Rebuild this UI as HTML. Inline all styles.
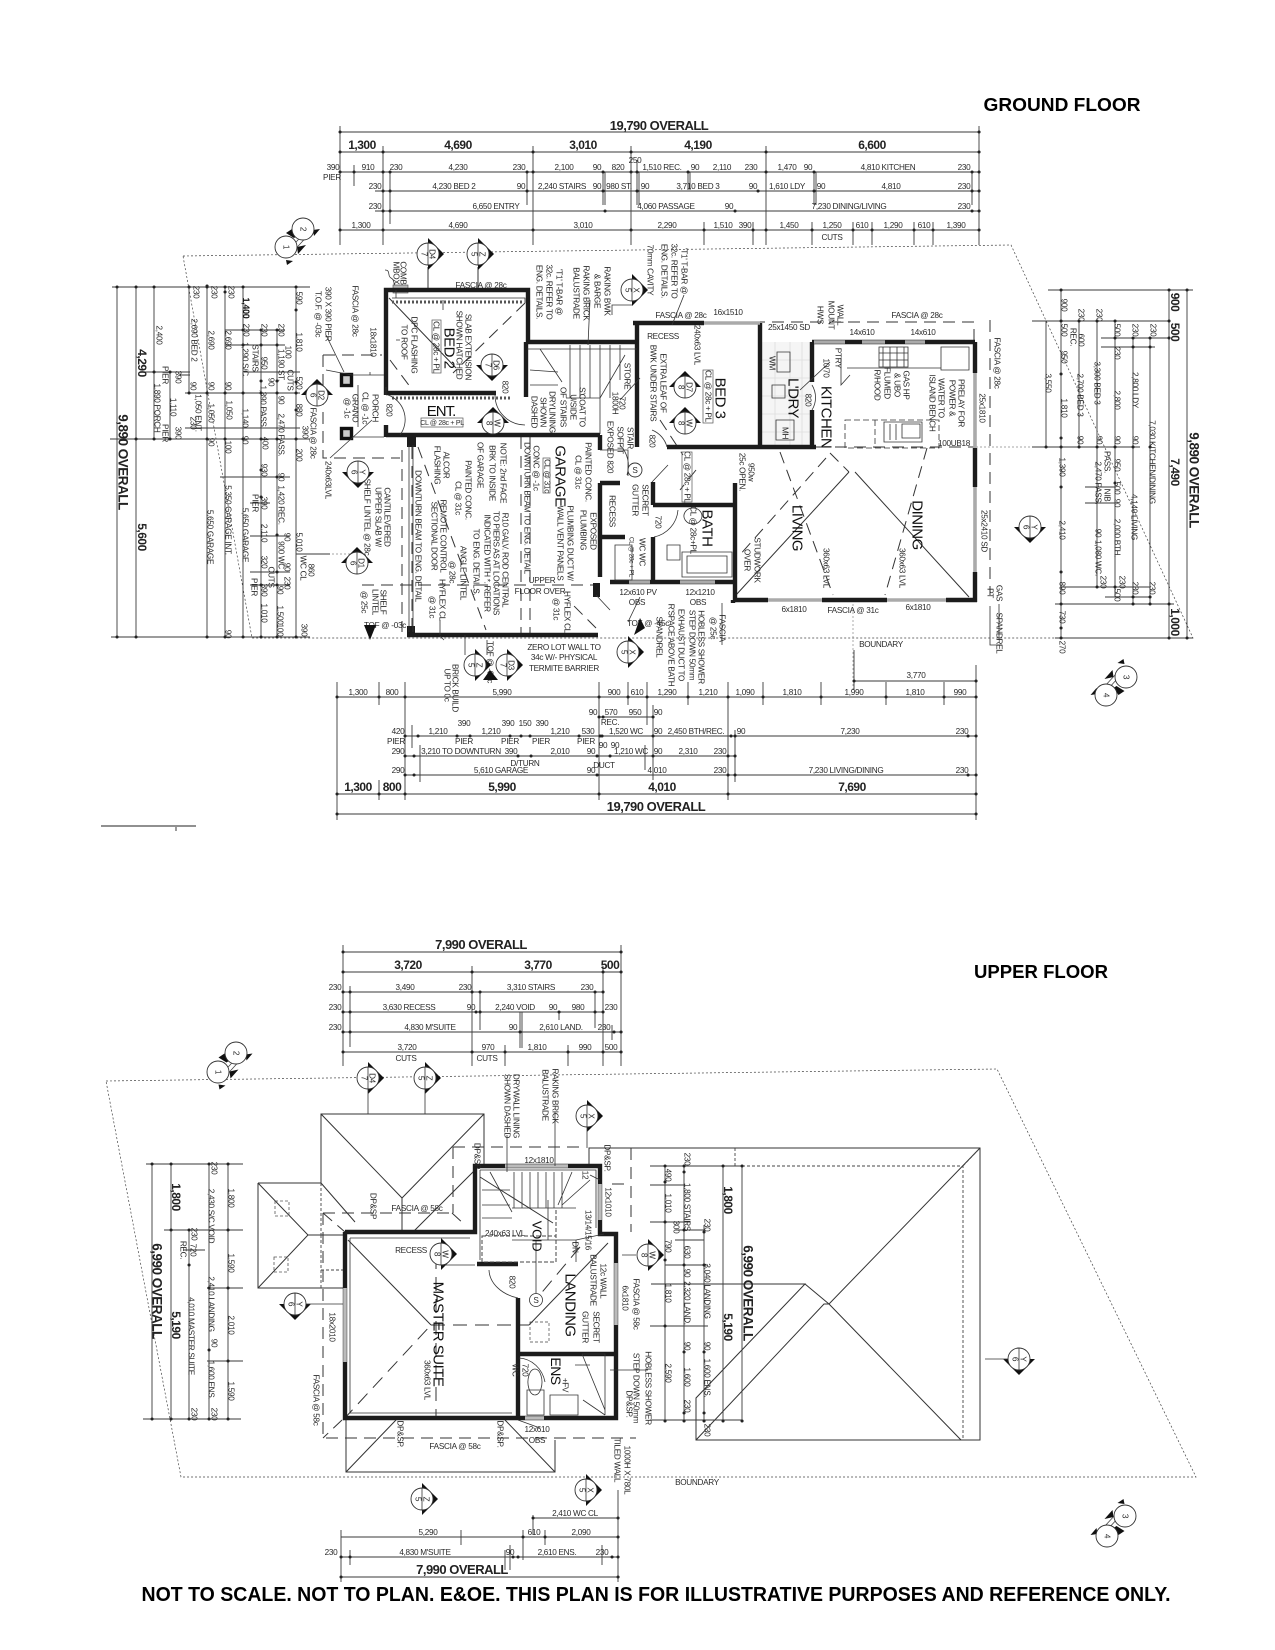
<!DOCTYPE html>
<html><head><meta charset="utf-8"><title>Floor Plan</title>
<style>
html,body{margin:0;padding:0;background:#fff}
svg{display:block;filter:blur(.3px)}
text{font-family:"Liberation Sans",sans-serif;font-size:8.2px;letter-spacing:-.3px;text-anchor:middle;fill:#2a2a2a}
.r text{dominant-baseline:central}
text.b{font-size:12px;font-weight:bold;letter-spacing:-.5px;fill:#222}
text.o{font-size:13.5px;font-weight:bold;letter-spacing:-.5px;fill:#222}
text.m{font-size:15px;letter-spacing:-.5px;fill:#111}
text.k{font-size:11px;letter-spacing:-.3px;fill:#111}
text.t{font-weight:bold;fill:#000;letter-spacing:0}
.l{fill:none;stroke:#3a3a3a;stroke-width:.9}
.h{fill:none;stroke:#333;stroke-width:1}
.g{fill:none;stroke:#888;stroke-width:.7;stroke-dasharray:2 2}
.a{fill:none;stroke:#333;stroke-width:1;stroke-dasharray:12 7}
.d{fill:none;stroke:#222;stroke-width:3;stroke-linecap:round}
.w{fill:none;stroke:#1c1c1c;stroke-width:4.4;stroke-linejoin:miter}
.n{fill:none;stroke:#333;stroke-width:.8}
.v{fill:none;stroke:#aaa;stroke-width:3.6}
.mk circle{fill:#fff;stroke:#333;stroke-width:.9}
.mk path{fill:#111}
.mk line{stroke:#333;stroke-width:.8}
</style></head><body>
<svg xmlns="http://www.w3.org/2000/svg" width="1275" height="1650" viewBox="0 0 1275 1650">
<defs>
<g id="mk" class="mk"><path d="M0-16 16 0 0 16Z"/><circle r="11"/><line x1="0" y1="-11" x2="0" y2="11"/></g>
<g id="mt" class="mk"><path d="M-16 0 0-16 16 0Z"/><circle r="11"/><line x1="0" y1="-11" x2="0" y2="11"/></g>
<g id="mu" class="mk"><path d="M-16 0 0 16 16 0Z"/><circle r="11"/><line x1="0" y1="-11" x2="0" y2="11"/></g>
<g id="pr" style="fill:#111"><path d="M-8.5-5-2.5-9 2.5-2-.5 0ZM2.5 9 11.5 7 3.5 16ZM18.5-8 25.5-9 19.5-2ZM-8.5 22-1.5 23-7.5 27Z"/><path d="M-3 9 9-4M0 12 12-1" fill="none" stroke="#444" stroke-width=".8"/></g>
</defs>
<rect width="1275" height="1650" fill="#fff"/>

<!-- titles -->
<text class="t" x="1062" y="111" style="font-size:18px" textLength="157" lengthAdjust="spacingAndGlyphs">GROUND FLOOR</text>
<text class="t" x="1041" y="978" style="font-size:18px" textLength="134" lengthAdjust="spacingAndGlyphs">UPPER FLOOR</text>
<text class="t" x="656" y="1601" style="font-size:20px" textLength="1029" lengthAdjust="spacingAndGlyphs">NOT TO SCALE. NOT TO PLAN. E&amp;OE. THIS PLAN IS FOR ILLUSTRATIVE PURPOSES AND REFERENCE ONLY.</text>

<!-- ========== GROUND: boundary ========== -->
<path class="g" style="stroke:#444" d="M183 256 1011 245 1193 638H252L183 256"/>
<path class="g" d="M976 447H1140M853 600V690M296 554H350"/>

<!-- top dims -->
<path class="l" d="M340 132H979M340 152H979M340 172H979M375 191H979M375 211H979M340 230H979
M340 126V245M383 146V245M533 146V245M631 146V245M766 146V245M979 126V245
M354 165V186M390 172V224M527 172V205M533 172V205M603 172V205M605 172V205M637 160V205M639 172V205M688 172V190M690 172V190M814 172V205M816 172V205M972 172V205
M704 222V245M753 222V245M812 222V245M853 222V245M872 222V245M914 222V245M933 222V245"/>
<path class="d" d="M340 132h.1M979 132h.1M340 152h.1M383 152h.1M533 152h.1M631 152h.1M766 152h.1M979 152h.1M340 172h.1M354 172h.1M383 172h.1M390 172h.1M527 172h.1M533 172h.1M603 172h.1M631 172h.1M637 172h.1M688 172h.1M766 172h.1M814 172h.1M972 172h.1M979 172h.1M383 191h.1M390 191h.1M527 191h.1M603 191h.1M637 191h.1M758 191h.1M814 191h.1M972 191h.1M979 191h.1M383 211h.1M390 211h.1M605 211h.1M735 211h.1M972 211h.1M979 211h.1M340 230h.1M383 230h.1M533 230h.1M631 230h.1M704 230h.1M753 230h.1M766 230h.1M812 230h.1M853 230h.1M872 230h.1M914 230h.1M933 230h.1M979 230h.1"/>
<text class="b" x="659" y="130" style="font-size:13px">19,790 OVERALL</text>
<g><text class="b" x="362" y="149">1,300</text><text class="b" x="458" y="149">4,690</text><text class="b" x="583" y="149">3,010</text><text class="b" x="698" y="149">4,190</text><text class="b" x="872" y="149">6,600</text></g>
<g>
<text x="333" y="170">390</text><text x="332" y="180">PIER</text><text x="368" y="170">910</text><text x="396" y="170">230</text><text x="458" y="170">4,230</text><text x="519" y="170">230</text><text x="564" y="170">2,100</text><text x="597" y="170">90</text><text x="618" y="170">820</text><text x="635" y="163">250</text><text x="662" y="170">1,510 REC.</text><text x="695" y="170">90</text><text x="722" y="170">2,110</text><text x="751" y="170">230</text><text x="787" y="170">1,470</text><text x="808" y="170">90</text><text x="888" y="170">4,810 KITCHEN</text><text x="964" y="170">230</text>
<text x="375" y="189">230</text><text x="454" y="189">4,230 BED 2</text><text x="521" y="189">90</text><text x="562" y="189">2,240 STAIRS</text><text x="597" y="189">90</text><text x="619" y="189">980 ST.</text><text x="645" y="189">90</text><text x="698" y="189">3,710 BED 3</text><text x="753" y="189">90</text><text x="787" y="189">1,610 LDY</text><text x="821" y="189">90</text><text x="891" y="189">4,810</text><text x="964" y="189">230</text>
<text x="375" y="209">230</text><text x="496" y="209">6,650 ENTRY</text><text x="666" y="209">4,060 PASSAGE</text><text x="729" y="209">90</text><text x="849" y="209">7,230 DINING/LIVING</text><text x="964" y="209">230</text>
<text x="361" y="228">1,300</text><text x="458" y="228">4,690</text><text x="583" y="228">3,010</text><text x="667" y="228">2,290</text><text x="723" y="228">1,510</text><text x="745" y="228">390</text><text x="789" y="228">1,450</text><text x="832" y="228">1,250</text><text x="862" y="228">610</text><text x="893" y="228">1,290</text><text x="924" y="228">610</text><text x="956" y="228">1,390</text><text x="832" y="240">CUTS</text>
</g>

<!-- left dims -->
<path class="l" d="M112 287H310M111 637H310M117 287V637M136 287V637M154 287V439M189 287V393M207 287V637M225 287V637M243 287V637M261 330V637M277 330V637M296 287V637M170 372V439
M143 372H190M110 439H310M225 330H285M225 345H285M185 393H300M185 428H300M180 375H190M244 372H300M220 477H290M250 503H270M250 536H290M250 572H290M250 585H290M296 554H330"/>
<path class="d" d="M117 287h.1M136 287h.1M154 287h.1M189 287h.1M207 287h.1M225 287h.1M243 287h.1M296 287h.1M296 310h.1M117 637h.1M136 637h.1M207 637h.1M225 637h.1M243 637h.1M261 637h.1M277 637h.1M296 637h.1M136 439h.1M154 439h.1M170 439h.1M207 439h.1M225 439h.1M243 439h.1M261 439h.1M277 439h.1M296 439h.1M154 372h.1M170 372h.1M189 393h.1M207 393h.1M225 393h.1M243 393h.1M261 393h.1M277 393h.1M296 393h.1M243 330h.1M261 330h.1M277 330h.1M243 345h.1M261 345h.1M277 345h.1M261 381h.1M277 381h.1M296 382h.1M296 410h.1M261 470h.1M277 477h.1M261 497h.1M277 535h.1M277 572h.1M261 585h.1M277 585h.1M207 286h.1M225 292h.1"/>
<g class="r">
<text class="o" transform="translate(123,462)rotate(90)">9,890 OVERALL</text>
<text class="b" transform="translate(142,363)rotate(90)">4,290</text><text class="b" transform="translate(142,537)rotate(90)">5,600</text>
<text transform="translate(159,335)rotate(90)">2,400</text><text transform="translate(157,408)rotate(90)">1,890 PORCH</text><text transform="translate(165,375)rotate(90)">PIER</text><text transform="translate(178,377)rotate(90)">390</text><text transform="translate(173,407)rotate(90)">1,110</text><text transform="translate(165,433)rotate(90)">PIER</text><text transform="translate(178,433)rotate(90)">390</text>
<text transform="translate(194,340)rotate(90)">2,690 BED 2</text><text transform="translate(196,292)rotate(90)">230</text><text transform="translate(193,386)rotate(90)">90</text><text transform="translate(198,413)rotate(90)">1,050 ENT.</text><text transform="translate(193,423)rotate(90)">230</text>
<text transform="translate(211,340)rotate(90)">2,690</text><text transform="translate(214,292)rotate(90)">230</text><text transform="translate(211,386)rotate(90)">90</text><text transform="translate(211,413)rotate(90)">1,050</text><text transform="translate(211,442)rotate(90)">90</text><text transform="translate(210,537)rotate(90)">5,650 GARAGE</text>
<text transform="translate(228,340)rotate(90)">2,690</text><text transform="translate(231,292)rotate(90)">230</text><text transform="translate(228,386)rotate(90)">90</text><text transform="translate(229,410)rotate(90)">1,050</text><text transform="translate(228,447)rotate(90)">100</text><text transform="translate(228,520)rotate(90)">5,350 GARAGE INT.</text><text transform="translate(228,634)rotate(90)">90</text>
<text class="k" style="font-size:9px;font-weight:bold" transform="translate(246,308)rotate(90)">1,400</text><text transform="translate(246,330)rotate(90)">230</text><text transform="translate(245,418)rotate(90)">1,140</text><text transform="translate(245,535)rotate(90)">5,650 GARAGE</text><text transform="translate(245,440)rotate(90)">90</text>
<text transform="translate(264,330)rotate(90)">230</text><text transform="translate(264,363)rotate(90)">950</text><text transform="translate(255,358)rotate(90)">STAIRS</text><text transform="translate(245,360)rotate(90)">1,290 S/C.</text><text transform="translate(263,407)rotate(90)">1,390 PASS.</text><text transform="translate(265,443)rotate(90)">400</text><text transform="translate(264,470)rotate(90)">930</text><text transform="translate(264,503)rotate(90)">390</text><text transform="translate(255,503)rotate(90)">PIER</text><text transform="translate(264,533)rotate(90)">2,110</text><text transform="translate(264,562)rotate(90)">320</text><text transform="translate(271,577)rotate(90)">CUTS</text><text transform="translate(254,587)rotate(90)">PIER</text><text transform="translate(264,590)rotate(90)">390</text><text transform="translate(264,613)rotate(90)">1,010</text>
<text transform="translate(281,330)rotate(90)">230</text><text transform="translate(288,352)rotate(90)">100</text><text transform="translate(281,365)rotate(90)">1,190 ST.</text><text transform="translate(271,382)rotate(90)">90</text><text transform="translate(281,400)rotate(90)">90</text><text transform="translate(281,435)rotate(90)">2,470 PASS.</text><text transform="translate(281,477)rotate(90)">90</text><text transform="translate(281,505)rotate(90)">1,420 REC.</text><text transform="translate(287,537)rotate(90)">90</text><text transform="translate(281,555)rotate(90)">900 WC</text><text transform="translate(287,567)rotate(90)">90</text><text transform="translate(287,583)rotate(90)">230</text><text transform="translate(280,590)rotate(90)">90</text><text transform="translate(280,615)rotate(90)">1,500</text><text transform="translate(280,630)rotate(90)">100</text>
<text transform="translate(299,298)rotate(90)">590</text><text transform="translate(299,342)rotate(90)">1,810</text><text transform="translate(290,380)rotate(90)">CUTS</text><text transform="translate(299,383)rotate(90)">520</text><text transform="translate(299,410)rotate(90)">880</text><text transform="translate(305,432)rotate(90)">390</text><text transform="translate(299,455)rotate(90)">200</text><text transform="translate(299,542)rotate(90)">5,010</text><text transform="translate(303,568)rotate(90)">WC CL</text><text transform="translate(311,570)rotate(90)">860</text><text transform="translate(304,630)rotate(90)">390</text>
</g>

<!-- right dims -->
<path class="l" d="M1048 290H1193M1032 321H1170M1101 338H1170M1101 347H1155M1032 447H1140M1055 604H1174M1055 638H1193M1187 290V638M1169 290V638M1061 290V638M1079 320V447M1097 320V587M1115 320V597M1133 338V605M1150 338V605M1046 321V447M1085 503H1115M1085 487H1115M1060 587H1150M1105 597H1150"/>
<path class="d" d="M1061 290h.1M1169 290h.1M1187 290h.1M1061 321h.1M1079 321h.1M1097 321h.1M1115 321h.1M1169 321h.1M1133 338h.1M1150 338h.1M1115 338h.1M1169 338h.1M1133 347h.1M1150 347h.1M1061 374h.1M1061 438h.1M1046 447h.1M1061 447h.1M1079 447h.1M1097 447h.1M1115 447h.1M1133 447h.1M1150 447h.1M1061 487h.1M1115 483h.1M1061 572h.1M1097 587h.1M1115 587h.1M1133 597h.1M1150 597h.1M1061 604h.1M1133 604h.1M1150 604h.1M1169 604h.1M1061 628h.1M1061 638h.1M1169 638h.1M1187 638h.1"/>
<g class="r">
<text class="o" transform="translate(1194,480)rotate(90)">9,890 OVERALL</text>
<text class="b" transform="translate(1175,472)rotate(90)">7,490</text><text class="b" transform="translate(1175,302)rotate(90)">900</text><text class="b" transform="translate(1175,332)rotate(90)">500</text><text class="b" transform="translate(1175,622)rotate(90)">1,000</text>
<text transform="translate(1064,305)rotate(90)">900</text><text transform="translate(1064,330)rotate(90)">500</text><text transform="translate(1064,357)rotate(90)">950</text><text transform="translate(1064,408)rotate(90)">1,810</text><text transform="translate(1048,383)rotate(90)">3,550</text><text transform="translate(1062,467)rotate(90)">1,390</text><text transform="translate(1062,530)rotate(90)">2,410</text><text transform="translate(1062,588)rotate(90)">890</text><text transform="translate(1062,617)rotate(90)">730</text><text transform="translate(1062,647)rotate(90)">270</text>
<text transform="translate(1081,315)rotate(90)">230</text><text transform="translate(1073,337)rotate(90)">REC.</text><text transform="translate(1081,340)rotate(90)">600</text><text transform="translate(1080,395)rotate(90)">2,700 BED 3</text><text transform="translate(1080,440)rotate(90)">90</text>
<text transform="translate(1099,315)rotate(90)">230</text><text transform="translate(1097,383)rotate(90)">3,300 BED 3</text><text transform="translate(1099,440)rotate(90)">90</text><text transform="translate(1107,462)rotate(90)">PASS.</text><text transform="translate(1098,483)rotate(90)">2,470 PASS.</text><text transform="translate(1107,495)rotate(90)">NIB</text><text transform="translate(1098,533)rotate(90)">90</text><text transform="translate(1098,558)rotate(90)">1,080 WC.</text><text transform="translate(1103,582)rotate(90)">230</text>
<text transform="translate(1117,330)rotate(90)">500</text><text transform="translate(1117,353)rotate(90)">230</text><text transform="translate(1117,400)rotate(90)">2,800</text><text transform="translate(1117,440)rotate(90)">90</text><text transform="translate(1117,465)rotate(90)">950</text><text transform="translate(1117,488)rotate(90)">500</text><text transform="translate(1117,503)rotate(90)">90</text><text transform="translate(1117,538)rotate(90)">2,000 BTH.</text><text transform="translate(1122,582)rotate(90)">230</text><text transform="translate(1117,595)rotate(90)">500</text>
<text transform="translate(1135,330)rotate(90)">230</text><text transform="translate(1135,390)rotate(90)">2,800 LDY</text><text transform="translate(1135,440)rotate(90)">90</text><text transform="translate(1134,517)rotate(90)">4,140 LIVING</text><text transform="translate(1135,588)rotate(90)">230</text>
<text transform="translate(1153,330)rotate(90)">230</text><text transform="translate(1152,462)rotate(90)">7,030 KITCHEN/DINING</text><text transform="translate(1152,588)rotate(90)">230</text>
</g>

<!-- bottom dims ground -->
<path class="l" d="M337 697H976M854 681H976M599 717H653M405 736H976M405 756H735M405 775H976M337 794H976M337 814H976
M337 682V820M976 665V820M405 682V800M379 682V705M379 780V800M599 682V800M728 682V800M628 682V705M647 682V725M688 682V705M763 682V705M821 682V705M886 682V705M944 682V705M854 650V690
M412 725V748M420 745V782M645 745V770M653 705V780M735 730V782"/>
<path class="d" d="M337 697h.1M379 697h.1M405 697h.1M599 697h.1M628 697h.1M647 697h.1M688 697h.1M728 697h.1M763 697h.1M821 697h.1M886 697h.1M944 697h.1M976 697h.1M854 681h.1M976 681h.1M599 717h.1M603 717h.1M653 717h.1M405 736h.1M418 736h.1M457 736h.1M470 736h.1M510 736h.1M521 736h.1M530 736h.1M579 736h.1M600 736h.1M602 736h.1M653 736h.1M731 736h.1M735 736h.1M968 736h.1M976 736h.1M405 756h.1M414 756h.1M518 756h.1M531 756h.1M597 756h.1M610 756h.1M653 756h.1M728 756h.1M735 756h.1M405 775h.1M414 775h.1M597 775h.1M728 775h.1M735 775h.1M968 775h.1M976 775h.1M337 794h.1M379 794h.1M405 794h.1M599 794h.1M728 794h.1M976 794h.1M337 814h.1M976 814h.1"/>
<g>
<text x="358" y="695">1,300</text><text x="392" y="695">800</text><text x="502" y="695">5,990</text><text x="614" y="695">900</text><text x="637" y="695">610</text><text x="667" y="695">1,290</text><text x="708" y="695">1,210</text><text x="745" y="695">1,090</text><text x="792" y="695">1,810</text><text x="854" y="695">1,990</text><text x="915" y="695">1,810</text><text x="960" y="695">990</text><text x="916" y="678">3,770</text>
<text x="593" y="715">90</text><text x="611" y="715">570</text><text x="635" y="715">950</text><text x="658" y="715">90</text><text x="610" y="725">REC.</text>
<text x="398" y="734">420</text><text x="438" y="734">1,210</text><text x="464" y="726">390</text><text x="491" y="734">1,210</text><text x="508" y="726">390</text><text x="525" y="726">150</text><text x="542" y="726">390</text><text x="560" y="734">1,210</text><text x="588" y="734">530</text><text x="626" y="734">1,520 WC</text><text x="658" y="734">90</text><text x="696" y="734">2,450 BTH/REC.</text><text x="741" y="734">90</text><text x="850" y="734">7,230</text><text x="962" y="734">230</text>
<text x="396" y="744">PIER</text><text x="464" y="744">PIER</text><text x="510" y="744">PIER</text><text x="541" y="744">PIER</text><text x="586" y="744">PIER</text>
<text x="398" y="754">290</text><text x="461" y="754">3,210 TO DOWNTURN</text><text x="511" y="754">390</text><text x="560" y="754">2,010</text><text x="591" y="754">90</text><text x="603" y="748">90</text><text x="615" y="748">90</text><text x="631" y="754">1,210 WC</text><text x="658" y="754">90</text><text x="688" y="754">2,310</text><text x="720" y="754">230</text>
<text x="525" y="766">D/TURN</text><text x="604" y="768">DUCT</text>
<text x="398" y="773">290</text><text x="501" y="773">5,610 GARAGE</text><text x="591" y="773">90</text><text x="657" y="773">4,010</text><text x="720" y="773">230</text><text x="846" y="773">7,230 LIVING/DINING</text><text x="962" y="773">230</text>
<text class="b" x="358" y="791">1,300</text><text class="b" x="392" y="791">800</text><text class="b" x="502" y="791">5,990</text><text class="b" x="662" y="791">4,010</text><text class="b" x="852" y="791">7,690</text>
<text class="b" x="656" y="811" style="font-size:13px">19,790 OVERALL</text>
</g>
<path class="l" style="stroke:#222" d="M101 826H196M176 827V831"/>

<!-- ground plan: roof / ceiling lines -->
<path class="a" d="M323 355H382M323 355V458H400M402 450V632M412 447V632M418 447 486 630M521 437V635M530 437V635M362 585H593M780 452 833 595M927 448 885 595M826 458 738 557M596 628 568 600M830 453 849 472M390 360 411 388M525 303 453 373M734 322H974V447M990 320V595M816 447H975M660 420 683 455M696 470 680 490"/>
<path class="h" d="M855 472 969 597M849 472 736 595M389 298 456 368M428 267V290M478 267V290"/>
<!-- ground walls -->
<rect x="761" y="342" width="51" height="105" fill="#f5f5f5"/>
<path class="n" style="stroke:#ddd" d="M761 360H812M761 378H812M761 396H812M761 414H812M761 432H812M775 342V447M790 342V447M802 342V447"/>
<rect x="393" y="285" width="15" height="8" fill="#bbb" stroke="#444" stroke-width=".6"/>
<path class="n" d="M385 270c6 0 2 6 6 8s2 5 4 7"/>
<path class="w" d="M386 395V290H528V342H637M386 393H496M526 342V397M637 330V447M633 323H704M760 323V447M667 447H816M637 323V345M812 342H975M812 342V382M812 410V447M975 342V373M975 448V487M975 572V602M733 600H768M822 600H887M946 600H977M735 483V602M733 600V603M386 435H600M600 435V450M600 483V577M600 483H620M600 537H625M653 482V505M653 505H733M653 537V583M610 582H733M407 635H598M386 425V437"/>
<path style="fill:#1c1c1c" d="M407 433h9v14h-9ZM407 626h8v11h-8ZM593 583h7v14h-7Z"/>
<rect x="341.500" y="374.500" width="10" height="11" fill="#ccc" stroke="#111" stroke-width="3.4"/><rect x="341.500" y="428.500" width="10" height="10" fill="#ccc" stroke="#111" stroke-width="3.4"/>
<path class="v" d="M704 323H760M975 373V448M975 487V572M768 600H822M887 600H946M814 342H845M862 342H885M905 342H925M629 582H650M680 582H715"/>
<path class="n" d="M352 375H384M352 437H384M358 385V427M370 372V375M409 445V632M413 445V632M396 290V298M392 298H525V303M386 395V387"/>
<path class="g" style="stroke:#555;stroke-width:3;stroke-dasharray:2 2" d="M392 302H524M392 398H510"/>
<!-- stairs -->
<path class="n" d="M527 349H637M570 345V398M580 345V398M590 345V398M600 345V398M610 345V398M620 345V380M530 370 558 372M530 385H558M540 349 562 382M566 398H600M640 378 620 400M625 355 600 398M600 398V434"/>
<!-- doors & fixtures -->
<path class="n" d="M620 445A30 30 0 0 1 627 475M600 450H628V476M495 395A30 30 0 0 0 525 425M388 395A26 26 0 0 1 400 435M652 430A25 25 0 0 1 667 447M654 537A30 30 0 0 0 678 510M830 362 800 390M812 385A24 24 0 0 1 812 410"/>
<!-- kitchen -->
<path class="n" d="M847 368H941M941 347H969V370H941ZM879 347H908V367H879ZM883 347V367M890 347V367M897 347V367M904 347V367M879 353H908M879 360H908M682 552H732V577H682ZM687 556H727V573H687ZM667 545H680V560H667ZM772 385H785V398H772ZM776 420H794V440H776ZM777 352H790V372H777ZM615 545H632V580H615ZM693 508A9 8 0 1 1 692.9 508M841 358V385L850 375"/>
<path class="a" style="stroke-dasharray:6 3;stroke-width:.8" d="M845 420H939V448H845ZM875 420V448"/>
<path class="n" d="M884 422H922V442H884ZM890 424V440M896 424V440M902 424H920V438H902Z"/>
<path class="n" style="stroke-width:.8" d="M443 300V310M632 305H612V315M326 335 344 372M326 370 352 375M330 458 372 420M400 340 H396M684 295 672 325M588 345 590 300M440 620V635M444 640 440 636M487 640V655M465 635V655M596 595 610 610M640 597 628 622M722 645V603M999 640V604M990 606V645H1002M652 482 668 465"/>
<!-- room labels ground -->
<g class="r">
<text class="m" transform="translate(449,348)rotate(90)">BED 2</text>
<text class="m" transform="translate(560,476)rotate(90)">GARAGE</text>
<text class="m" transform="translate(720,398)rotate(90)">BED 3</text>
<text class="m" transform="translate(826,417)rotate(90)">KITCHEN</text>
<text class="m" transform="translate(793,398)rotate(90)">L'DRY</text>
<text class="m" transform="translate(797,528)rotate(90)">LIVING</text>
<text class="m" transform="translate(917,525)rotate(90)">DINING</text>
<text class="m" transform="translate(707,528)rotate(90)">BATH</text>
<text transform="translate(436,347)rotate(90)">CL @ 28c + PL</text>
<text transform="translate(468,347)rotate(90)">SLAB EXTENSION</text><text transform="translate(459,345)rotate(90)">SHOWN HATCHED</text><text transform="translate(414,345)rotate(90)">DPC FLASHING</text><text transform="translate(404,342)rotate(90)">TO ROOF</text><text transform="translate(373,342)rotate(90)">18x1810</text><text transform="translate(355,311)rotate(90)">FASCIA @ 28c</text><text transform="translate(403,273)rotate(90)">COMB</text><text transform="translate(396,273)rotate(90)">MBOX</text><text transform="translate(328,314)rotate(90)">390 X 390 PIER</text><text transform="translate(318,314)rotate(90)">T.O.F. @ -03c</text>
<text transform="translate(505,387)rotate(90)">820</text><text transform="translate(389,410)rotate(90)">820</text><text transform="translate(375,408)rotate(90)">PORCH</text><text transform="translate(365,408)rotate(90)">CL @ -1c</text><text transform="translate(355,408)rotate(90)">GRANO</text><text transform="translate(347,408)rotate(90)">@ -1c</text><text transform="translate(313,433)rotate(90)">FASCIA @ 28c</text><text transform="translate(328,480)rotate(90)">240x63LVL</text>
<text transform="translate(437,465)rotate(90)">FLASHING</text><text transform="translate(446,465)rotate(90)">ALCOR</text><text transform="translate(468,490)rotate(90)">PAINTED CONC.</text><text transform="translate(458,498)rotate(90)">CL @ 31c</text><text transform="translate(503,473)rotate(90)">NOTE: 2nd FACE</text><text transform="translate(492,473)rotate(90)">BRK TO INSIDE</text><text transform="translate(480,465)rotate(90)">OF GARAGE</text>
<text transform="translate(536,468)rotate(90)">CONC @ -1c</text><text transform="translate(527,508)rotate(90)">DOWNTURN BEAM TO ENG. DETAIL</text><text transform="translate(588,472)rotate(90)">PAINTED CONC.</text><text transform="translate(578,472)rotate(90)">CL @ 31c</text><text transform="translate(547,476)rotate(90)">CL @ 31c</text><text transform="translate(560,543)rotate(90)">WALL VENT PANELS</text><text transform="translate(570,543)rotate(90)">PLUMBING DUCT W/</text><text transform="translate(583,530)rotate(90)">PLUMBING</text><text transform="translate(593,531)rotate(90)">EXPOSED</text>
<text transform="translate(505,560)rotate(90)">R10 GALV. ROD CENTRAL</text><text transform="translate(496,563)rotate(90)">TO PIERS AS AT LOCATIONS</text><text transform="translate(487,563)rotate(90)">INDICATED WITH *. REFER</text><text transform="translate(476,562)rotate(90)">TO ENG. DETAILS.</text><text transform="translate(443,536)rotate(90)">REMOTE CONTROL</text><text transform="translate(434,536)rotate(90)">SECTIONAL DOOR</text><text transform="translate(463,573)rotate(90)">ANGLE LINTEL</text><text transform="translate(452,572)rotate(90)">@ 28c</text><text transform="translate(418,536)rotate(90)">DOWNTURN BEAM TO ENG. DETAIL</text>
<text transform="translate(387,517)rotate(90)">CANTILEVERED</text><text transform="translate(378,517)rotate(90)">UPPER SLAB W/</text><text transform="translate(367,517)rotate(90)">SHELF LINTEL @ 28c</text><text transform="translate(383,602)rotate(90)">SHELF</text><text transform="translate(375,602)rotate(90)">LINTEL</text><text transform="translate(364,602)rotate(90)">@ 25c</text><text transform="translate(442,600)rotate(90)">HYFLEX CL</text><text transform="translate(432,607)rotate(90)">@ 31c</text><text transform="translate(567,612)rotate(90)">HYFLEX CL</text><text transform="translate(556,609)rotate(90)">@ 31c</text><text transform="translate(455,688)rotate(90)">BRICK BUILD</text><text transform="translate(447,685)rotate(90)">UP TO 0c</text><text transform="translate(490,662)rotate(90)">TOF @ -03c</text>
<text transform="translate(645,500)rotate(90)">SECRET</text><text transform="translate(635,500)rotate(90)">GUTTER</text><text transform="translate(612,511)rotate(90)">RECESS</text><text transform="translate(630,438)rotate(90)">STAIR</text><text transform="translate(620,440)rotate(90)">SOFFIT</text><text transform="translate(610,447)rotate(90)">EXPOSED 820</text><text transform="translate(627,376)rotate(90)">STORE</text><text transform="translate(622,403)rotate(90)">720</text><text transform="translate(615,403)rotate(90)">1800H</text><text transform="translate(652,441)rotate(90)">820</text><text transform="translate(687,477)rotate(90)">CL @ 28c + PL</text><text transform="translate(708,396)rotate(90)">CL @ 28c + PL</text><text transform="translate(697,345)rotate(90)">240x63 LVL</text><text transform="translate(663,383)rotate(90)">EXTRA LEAF OF</text><text transform="translate(653,383)rotate(90)">BWK UNDER STAIRS</text>
<text transform="translate(582,407)rotate(90)">S'COAT TO</text><text transform="translate(573,407)rotate(90)">U/SIDE</text><text transform="translate(563,407)rotate(90)">OF STAIRS</text><text transform="translate(552,412)rotate(90)">DRYLINING</text><text transform="translate(543,412)rotate(90)">SHOWN</text><text transform="translate(534,412)rotate(90)">DASHED</text>
<text transform="translate(684,271)rotate(90)">'T1' T-BAR @</text><text transform="translate(674,271)rotate(90)">32c. REFER TO</text><text transform="translate(664,271)rotate(90)">ENG. DETAILS.</text><text transform="translate(650,270)rotate(90)">70mm CAVITY</text><text transform="translate(607,291)rotate(90)">RAKING BWK</text><text transform="translate(597,291)rotate(90)">&amp; BARGE</text><text transform="translate(586,293)rotate(90)">RAKING BRICK</text><text transform="translate(576,293)rotate(90)">BALUSTRADE</text><text transform="translate(559,292)rotate(90)">'T1' T-BAR @</text><text transform="translate(549,292)rotate(90)">32c. REFER TO</text><text transform="translate(539,292)rotate(90)">ENG. DETAILS.</text>
<text transform="translate(840,315)rotate(90)">WALL</text><text transform="translate(831,315)rotate(90)">MOUNT</text><text transform="translate(820,315)rotate(90)">HWS</text><text transform="translate(997,363)rotate(90)">FASCIA @ 28c</text><text transform="translate(982,408)rotate(90)">25x1810</text><text transform="translate(984,531)rotate(90)">25x2410 SD</text><text transform="translate(961,403)rotate(90)">PRELAY FOR</text><text transform="translate(952,398)rotate(90)">POWER &amp;</text><text transform="translate(941,398)rotate(90)">WATER TO</text><text transform="translate(932,403)rotate(90)">ISLAND BENCH</text><text transform="translate(906,385)rotate(90)">GAS HP</text><text transform="translate(897,385)rotate(90)">&amp; UBO</text><text transform="translate(887,383)rotate(90)">FLUMED</text><text transform="translate(877,385)rotate(90)">R/HOOD</text><text transform="translate(808,400)rotate(90)">820</text><text transform="translate(838,358)rotate(90)">PTRY</text><text transform="translate(826,368)rotate(90)">10/70</text><text transform="translate(772,363)rotate(90)">WM</text><text transform="translate(785,433)rotate(90)">MH</text>
<text transform="translate(826,568)rotate(90)">360x63 LVL</text><text transform="translate(902,568)rotate(90)">360x63 LVL</text><text transform="translate(693,530)rotate(90)">CL @ 28c+PL</text><text transform="translate(757,560)rotate(90)">STUDWORK</text><text transform="translate(747,560)rotate(90)">OVER</text><text transform="translate(751,472)rotate(90)">950w</text><text transform="translate(742,472)rotate(90)">25c OPEN.</text><text transform="translate(999,633)rotate(90)">SPANDREL</text><text transform="translate(999,593)rotate(90)">GAS</text><text transform="translate(990,593)rotate(90)">PT</text><text transform="translate(701,647)rotate(90)">HOBLESS SHOWER</text><text transform="translate(692,645)rotate(90)">STEP DOWN 50mm</text><text transform="translate(681,645)rotate(90)">EXHAUST DUCT TO</text><text transform="translate(671,645)rotate(90)">R'SPACE ABOVE BATH</text><text transform="translate(659,637)rotate(90)">SPANDREL</text><text transform="translate(722,628)rotate(90)">FASCIA</text><text transform="translate(713,628)rotate(90)">@ 25c</text>
<text transform="translate(658,522)rotate(90)">720</text><text transform="translate(642,552)rotate(90)">WC WC</text><text transform="translate(631,557)rotate(90)" style="font-size:6.5px">CL @ 28c + PL</text>
</g>
<g>
<text class="m" x="441" y="416" style="letter-spacing:-1px">ENT.</text><rect x="421" y="418" width="42" height="9" fill="none" stroke="#555" stroke-width=".7"/><text x="442" y="425" style="font-size:7px">CL @ 28c + PL</text>
<rect x="432" y="320" width="9" height="53" fill="none" stroke="#555" stroke-width=".7"/><rect x="543" y="458" width="7" height="35" fill="none" stroke="#555" stroke-width=".7"/><rect x="682" y="452" width="10" height="50" fill="none" stroke="#555" stroke-width=".7"/><rect x="703" y="370" width="10" height="53" fill="none" stroke="#555" stroke-width=".7"/>
<text x="481" y="288">FASCIA @ 28c</text><text x="681" y="318">FASCIA @ 28c</text><text x="728" y="315">16x1510</text><text x="789" y="330">25x1450 SD</text><text x="663" y="339">RECESS</text><text x="862" y="335">14x610</text><text x="923" y="335">14x610</text><text x="917" y="318">FASCIA @ 28c</text><text x="954" y="446">100UB18</text>
<text x="542" y="583">UPPER</text><text x="540" y="594">FLOOR OVER</text><text x="564" y="650">ZERO LOT WALL TO</text><text x="564" y="660">34c W/- PHYSICAL</text><text x="564" y="671">TERMITE BARRIER</text><text x="385" y="628">TOF @ -03c</text><text x="648" y="626">TOF @ -45c</text><text x="638" y="595">12x610 PV</text><text x="637" y="605">OBS</text><text x="700" y="595">12x1210</text><text x="698" y="605">OBS</text><text x="794" y="612">6x1810</text><text x="918" y="610">6x1810</text><text x="853" y="613">FASCIA @ 31c</text><text x="881" y="647">BOUNDARY</text>
</g>
<path style="fill:#111" d="M364 625H376L370 640ZM490 670 498 680H483ZM640 618 634 635 645 628Z"/>

<!-- markers ground -->
<use href="#mk" x="428" y="254"/><use href="#mk" x="478" y="254"/><use href="#mk" x="632" y="290"/><use href="#mu" x="492" y="365"/><use href="#mt" x="493" y="423"/><use href="#mt" x="317" y="395"/><use href="#mu" x="358" y="472"/><use href="#mt" x="357" y="563"/><use href="#mk" x="475" y="665"/><use href="#mk" x="507" y="665"/><use href="#mk" x="628" y="652"/><use href="#mt" x="685" y="387"/><use href="#mt" x="685" y="423"/><use href="#mu" x="1030" y="527"/>
<use href="#pr" x="294.500" y="238"/>
<use href="#pr" transform="rotate(180 1116 686) translate(1116 686)"/>
<g class="mk"><circle cx="286" cy="247" r="11"/><circle cx="303" cy="229" r="11"/><circle cx="1126" cy="677" r="11"/><circle cx="1106" cy="695" r="11"/></g>
<g class="r">
<text transform="translate(286,247)rotate(90)">1</text><text transform="translate(303,229)rotate(90)">2</text><text transform="translate(1126,677)rotate(90)">3</text><text transform="translate(1106,695)rotate(90)">4</text>
<text transform="translate(432,254)rotate(90)">D4</text><text transform="translate(424,254)rotate(90)">7</text><text transform="translate(482,254)rotate(90)">Z</text><text transform="translate(474,254)rotate(90)">5</text><text transform="translate(636,290)rotate(90)">X</text><text transform="translate(628,290)rotate(90)">5</text><text transform="translate(496,365)rotate(90)">D6</text><text transform="translate(488,365)rotate(90)">7</text><text transform="translate(497,423)rotate(90)">W</text><text transform="translate(489,423)rotate(90)">8</text><text transform="translate(321,395)rotate(90)">D2</text><text transform="translate(313,395)rotate(90)">6</text><text transform="translate(362,472)rotate(90)">Y</text><text transform="translate(354,472)rotate(90)">6</text><text transform="translate(361,563)rotate(90)">D1</text><text transform="translate(353,563)rotate(90)">6</text><text transform="translate(479,665)rotate(90)">Z</text><text transform="translate(471,665)rotate(90)">5</text><text transform="translate(511,665)rotate(90)">D3</text><text transform="translate(503,665)rotate(90)">7</text><text transform="translate(632,652)rotate(90)">X</text><text transform="translate(624,652)rotate(90)">5</text><text transform="translate(689,387)rotate(90)">D7</text><text transform="translate(681,387)rotate(90)">8</text><text transform="translate(689,423)rotate(90)">W</text><text transform="translate(681,423)rotate(90)">8</text><text transform="translate(1034,527)rotate(90)">Y</text><text transform="translate(1026,527)rotate(90)">6</text>
</g>
<g class="mk"><circle cx="635" cy="470" r="7" style="fill:#fff"/></g><text x="635" y="473">S</text>

<!-- ========== UPPER FLOOR ========== -->
<path class="g" style="stroke:#444" d="M106 1081 997 1069 1196 1477H181L106 1081"/>
<!-- upper top dims -->
<path class="l" d="M343 952H621M343 972H621M343 992H603M343 1012H603M343 1032H621M343 1052H621M343 945V1066M621 945V1066M472 966V1066M603 966V1066M350 986V1047M472 992V1030M480 992V1030M505 1045V1066M520 1012V1048M522 1012V1048M559 1012V1020M568 1045V1066M595 992V1028M612 1025V1040"/>
<path class="d" d="M343 952h.1M621 952h.1M343 972h.1M472 972h.1M603 972h.1M621 972h.1M343 992h.1M350 992h.1M472 992h.1M480 992h.1M595 992h.1M603 992h.1M343 1012h.1M350 1012h.1M476 1012h.1M480 1012h.1M559 1012h.1M595 1012h.1M603 1012h.1M343 1032h.1M350 1032h.1M520 1032h.1M614 1032h.1M621 1032h.1M343 1052h.1M472 1052h.1M505 1052h.1M568 1052h.1M603 1052h.1M621 1052h.1"/>
<g>
<text class="b" x="481" y="949" style="font-size:13px">7,990 OVERALL</text><text class="b" x="408" y="969">3,720</text><text class="b" x="538" y="969">3,770</text><text class="b" x="610" y="969">500</text>
<text x="335" y="990">230</text><text x="405" y="990">3,490</text><text x="465" y="990">230</text><text x="531" y="990">3,310 STAIRS</text><text x="587" y="990">230</text>
<text x="335" y="1010">230</text><text x="409" y="1010">3,630 RECESS</text><text x="471" y="1010">90</text><text x="515" y="1010">2,240 VOID</text><text x="553" y="1010">90</text><text x="578" y="1010">980</text><text x="611" y="1010">230</text>
<text x="335" y="1030">230</text><text x="430" y="1030">4,830 M'SUITE</text><text x="513" y="1030">90</text><text x="561" y="1030">2,610 LAND.</text><text x="604" y="1030">230</text>
<text x="407" y="1050">3,720</text><text x="488" y="1050">970</text><text x="537" y="1050">1,810</text><text x="585" y="1050">990</text><text x="611" y="1050">500</text><text x="406" y="1061">CUTS</text><text x="487" y="1061">CUTS</text>
</g>
<!-- upper left dims -->
<path class="l" d="M146 1164H243M164 1230H243M207 1288H243M207 1361H243M143 1419H241M152 1164V1419M171 1164V1419M189 1229V1419M209 1164V1419M228 1164V1419M183 1250H205"/>
<path class="d" d="M152 1164h.1M171 1164h.1M209 1164h.1M228 1164h.1M171 1230h.1M189 1230h.1M228 1230h.1M189 1265h.1M209 1288h.1M228 1288h.1M209 1350h.1M228 1361h.1M152 1419h.1M171 1419h.1M189 1419h.1M209 1419h.1M228 1419h.1"/>
<g class="r">
<text class="b" transform="translate(176,1197)rotate(90)">1,800</text><text class="o" transform="translate(157,1291)rotate(90)">6,990 OVERALL</text><text class="b" transform="translate(176,1325)rotate(90)">5,190</text>
<text transform="translate(214,1168)rotate(90)">230</text><text transform="translate(231,1198)rotate(90)">1,800</text><text transform="translate(211,1216)rotate(90)">2,430 S/C VOID</text><text transform="translate(194,1234)rotate(90)">230</text><text transform="translate(193,1250)rotate(90)">720</text><text transform="translate(183,1250)rotate(90)">REC.</text><text transform="translate(231,1263)rotate(90)">1,590</text><text transform="translate(211,1304)rotate(90)">2,410 LANDING</text><text transform="translate(191,1336)rotate(90)">4,010 MASTER SUITE</text><text transform="translate(231,1325)rotate(90)">2,010</text><text transform="translate(214,1343)rotate(90)">90</text><text transform="translate(211,1380)rotate(90)">1,600 ENS.</text><text transform="translate(231,1391)rotate(90)">1,590</text><text transform="translate(194,1414)rotate(90)">230</text><text transform="translate(214,1414)rotate(90)">230</text>
</g>
<!-- upper roofs -->
<path class="h" d="M321 1183V1114H484V1166M321 1114 402 1198 484 1114M402 1198V1232M413 1232 475 1170M258 1183H321M258 1183V1288H343M258 1183 308 1235 258 1288M308 1235H343M321 1183 355 1222M346 1420V1472H555V1440M396 1420 346 1472M505 1420 555 1472M589 1166V1148H980V1440H696V1398L805 1284H651M805 1284 829 1304M980 1148 829 1304H824L696 1440M829 1304 961 1440"/>
<path class="a" d="M323 1213V1438H636M323 1213H452M453 1147V1213M453 1147H585M323 1213 345 1232M342 1420 323 1438M452 1213 465 1225M631 1148V1232M612 1184 631 1184"/>
<path class="g" style="stroke:#444;stroke-width:.9;stroke-dasharray:3 2" d="M735 1148V1166H963V1440M963 1166 980 1148M321 1183V1235M321 1270H343M321 1235V1288"/>
<path class="g" style="stroke:#555;stroke-width:.8;stroke-dasharray:3 2" d="M275 1201H289V1216H275ZM274 1257H288V1272H274Z"/>
<path class="a" style="stroke-dasharray:14 8" d="M431 1325H529M436 1255V1420M343 1420 431 1325M580 1247 538 1297"/>
<path class="h" d="M348 1240 431 1325M608 1243 529 1325M480 1177 553 1223"/>
<!-- upper walls -->
<path class="w" d="M345 1232V1418H616V1234H600V1166H475V1232H345M477 1264H518M518 1298V1418M518 1354H616"/>
<path class="v" style="stroke:#bbb" d="M505 1166H568M600 1184V1220M616 1263V1325M345 1288V1362M525 1418H544"/>
<path class="n" d="M350 1238H470M350 1238V1413H512M480 1170H596V1228M480 1170V1260"/>
<!-- stairs upper -->
<path class="n" d="M514 1172V1208M522 1172V1208M530 1172V1208M538 1172V1208M546 1172V1208M554 1172V1208M562 1172V1208M572 1172 558 1205M590 1180 562 1205M482 1190H510M482 1205H510M482 1218H512M490 1172 512 1212M512 1208H576M512 1240H576V1262M548 1240V1200"/>
<path class="g" style="stroke:#444;stroke-width:1;stroke-dasharray:4 2" d="M482 1236H556V1262H482ZM556 1210V1262"/>
<path class="n" d="M489 1270A40 30 0 0 0 518 1298M519 1358A28 30 0 0 1 545 1382M527 1415H544V1390H527ZM550 1395H578V1415H550ZM582 1354 605 1410M582 1354H605V1415M583 1400 605 1415M535 1395A7 13 0 1 0 534.900 1395"/>
<path class="g" style="stroke:#444;stroke-dasharray:3 2" d="M530 1322H549V1342H530Z"/>
<path class="n" d="M536 1240V1294M555 1112V1166M507 1135V1172M575 1365H590M610 1370H648M590 1175 600 1180M576 1240 604 1234M518 1420 540 1428"/>
<circle cx="536" cy="1300" r="6.500" fill="#fff" stroke="#333" stroke-width=".8"/><text x="536" y="1303">S</text>
<!-- upper right dims -->
<path class="l" d="M650 1166H742M650 1185H685M650 1222H690M675 1230H705M665 1265H708M650 1326H708M650 1420H742M665 1166V1421M684 1166V1421M704 1225V1421M723 1166V1421M742 1166V1421M675 1240H704"/>
<path class="d" d="M665 1166h.1M684 1166h.1M723 1166h.1M742 1166h.1M665 1182h.1M684 1172h.1M665 1222h.1M684 1230h.1M704 1232h.1M665 1260h.1M684 1265h.1M704 1265h.1M665 1326h.1M684 1352h.1M704 1352h.1M684 1413h.1M704 1413h.1M665 1421h.1M684 1421h.1M704 1421h.1M723 1421h.1M742 1421h.1"/>
<g class="r">
<text transform="translate(687,1159)rotate(90)">230</text><text transform="translate(668,1175)rotate(90)">490</text><text transform="translate(668,1203)rotate(90)">1,010</text><text transform="translate(687,1207)rotate(90)">1,800 STAIRS</text><text transform="translate(676,1227)rotate(90)">300</text><text transform="translate(707,1225)rotate(90)">230</text><text transform="translate(668,1246)rotate(90)">790</text><text transform="translate(687,1252)rotate(90)">630</text><text transform="translate(687,1273)rotate(90)">90</text><text transform="translate(707,1291)rotate(90)">3,040 LANDING</text><text transform="translate(668,1293)rotate(90)">1,810</text><text transform="translate(687,1303)rotate(90)">2,320 LAND.</text><text transform="translate(687,1346)rotate(90)">90</text><text transform="translate(707,1346)rotate(90)">90</text><text transform="translate(668,1373)rotate(90)">2,590</text><text transform="translate(687,1377)rotate(90)">1,600</text><text transform="translate(707,1378)rotate(90)">1,600 ENS.</text><text transform="translate(687,1406)rotate(90)">230</text><text transform="translate(707,1430)rotate(90)">230</text>
<text class="b" transform="translate(728,1200)rotate(90)">1,800</text><text class="o" transform="translate(748,1293)rotate(90)">6,990 OVERALL</text><text class="b" transform="translate(728,1327)rotate(90)">5,190</text>
</g>
<!-- upper bottom dims -->
<path class="l" d="M533 1518H618M341 1537H618M341 1557H618M341 1577H618M618 1490V1582M533 1515V1535M545 1530V1545M523 1530V1560M510 1545V1570M602 1545V1565M341 1530V1582M350 1550V1565M461 1530V1545M505 1550V1570"/>
<path class="d" d="M533 1518h.1M618 1518h.1M523 1537h.1M545 1537h.1M618 1537h.1M341 1557h.1M350 1557h.1M513 1557h.1M518 1557h.1M612 1557h.1M618 1557h.1M341 1577h.1M618 1577h.1"/>
<g>
<text x="575" y="1516">2,410 WC CL</text><text x="428" y="1535">5,290</text><text x="534" y="1535">610</text><text x="581" y="1535">2,090</text><text x="331" y="1555">230</text><text x="425" y="1555">4,830 M'SUITE</text><text x="510" y="1555">90</text><text x="557" y="1555">2,610 ENS.</text><text x="602" y="1555">230</text><text class="b" x="462" y="1574" style="font-size:13px">7,990 OVERALL</text>
</g>
<!-- upper labels -->
<g class="r">
<text class="m" transform="translate(438,1334)rotate(90)">MASTER SUITE</text><text class="m" transform="translate(570,1305)rotate(90)">LANDING</text><text class="m" style="font-size:14px" transform="translate(556,1371)rotate(90)">ENS</text><text class="k" style="font-size:13px" transform="translate(537,1236)rotate(90)">VOID</text>
<text transform="translate(427,1380)rotate(90)">360x63 LVL</text><text transform="translate(373,1206)rotate(90)">DP&amp;SP</text><text transform="translate(332,1327)rotate(90)">18x2010</text><text transform="translate(316,1400)rotate(90)">FASCIA @ 58c</text><text transform="translate(400,1434)rotate(90)">DP&amp;SP.</text><text transform="translate(500,1434)rotate(90)">DP&amp;SP.</text><text transform="translate(525,1370)rotate(90)">720</text><text transform="translate(515,1370)rotate(90)">WC</text><text transform="translate(565,1385)rotate(90)">+FV</text><text transform="translate(512,1282)rotate(90)">820</text><text transform="translate(575,1247)rotate(90)">DN</text>
<text transform="translate(608,1202)rotate(90)">12x1010</text><text transform="translate(607,1158)rotate(90)">DP&amp;SP.</text><text transform="translate(477,1156)rotate(90)">DP&amp;SP</text><text transform="translate(516,1106)rotate(90)">DRYWALL LINING</text><text transform="translate(507,1106)rotate(90)">SHOWN DASHED</text><text transform="translate(555,1096)rotate(90)">RAKING BRICK</text><text transform="translate(545,1095)rotate(90)">BALUSTRADE</text><text transform="translate(603,1281)rotate(90)">12c WALL</text><text transform="translate(593,1280)rotate(90)">BALUSTRADE</text><text transform="translate(596,1327)rotate(90)">SECRET</text><text transform="translate(585,1327)rotate(90)">GUTTER</text><text transform="translate(625,1298)rotate(90)">6x1810</text><text transform="translate(636,1304)rotate(90)">FASCIA @ 58c</text><text transform="translate(648,1388)rotate(90)">HOBLESS SHOWER</text><text transform="translate(636,1388)rotate(90)">STEP DOWN 50mm</text><text transform="translate(629,1404)rotate(90)">DP&amp;SP.</text><text transform="translate(627,1470)rotate(90)">1000H X 780L</text><text transform="translate(617,1460)rotate(90)">TILED WALL</text><text transform="translate(585,1175)rotate(90)">12</text><text transform="translate(588,1230)rotate(90)">13/14/15/16</text>
</g>
<g>
<text x="411" y="1253">RECESS</text><text x="417" y="1211">FASCIA @ 58c</text><text x="455" y="1449">FASCIA @ 58c</text><text x="537" y="1432">12x610</text><text x="537" y="1443">OBS</text><text x="505" y="1236">240x63 LVL</text><text x="539" y="1163">12x1810</text><text x="697" y="1485">BOUNDARY</text>
</g>
<!-- markers upper -->
<use href="#mk" x="368" y="1078"/><use href="#mk" x="425" y="1078"/><use href="#mk" x="587" y="1116"/><use href="#mk" x="441" y="1254"/><use href="#mk" x="648" y="1255"/><use href="#mu" x="295" y="1304"/><use href="#mu" x="1019" y="1359"/><use href="#mk" x="586" y="1490"/><use href="#mk" x="422" y="1499"/>
<use href="#pr" x="227" y="1062.500"/>
<use href="#pr" transform="rotate(180 1116 1526) translate(1116 1526)"/>
<g class="mk"><circle cx="218" cy="1072" r="11"/><circle cx="236" cy="1053" r="11"/><circle cx="1125" cy="1516" r="11"/><circle cx="1107" cy="1536" r="11"/></g>
<g class="r">
<text transform="translate(218,1072)rotate(90)">1</text><text transform="translate(236,1053)rotate(90)">2</text><text transform="translate(1125,1516)rotate(90)">3</text><text transform="translate(1107,1536)rotate(90)">4</text>
<text transform="translate(372,1078)rotate(90)">D4</text><text transform="translate(364,1078)rotate(90)">7</text><text transform="translate(429,1078)rotate(90)">Z</text><text transform="translate(421,1078)rotate(90)">5</text><text transform="translate(591,1116)rotate(90)">X</text><text transform="translate(583,1116)rotate(90)">5</text><text transform="translate(445,1254)rotate(90)">W</text><text transform="translate(437,1254)rotate(90)">8</text><text transform="translate(652,1255)rotate(90)">W</text><text transform="translate(644,1255)rotate(90)">8</text><text transform="translate(299,1304)rotate(90)">Y</text><text transform="translate(291,1304)rotate(90)">6</text><text transform="translate(1023,1359)rotate(90)">Y</text><text transform="translate(1015,1359)rotate(90)">6</text><text transform="translate(590,1490)rotate(90)">X</text><text transform="translate(582,1490)rotate(90)">5</text><text transform="translate(426,1499)rotate(90)">Z</text><text transform="translate(418,1499)rotate(90)">5</text>
</g>
<path class="n" d="M368 1089V1114M425 1089V1114M587 1127V1148M295 1293V1304M306 1304H343M1008 1359H985M441 1265H475M622 1255H636"/>
</svg>
</body></html>
